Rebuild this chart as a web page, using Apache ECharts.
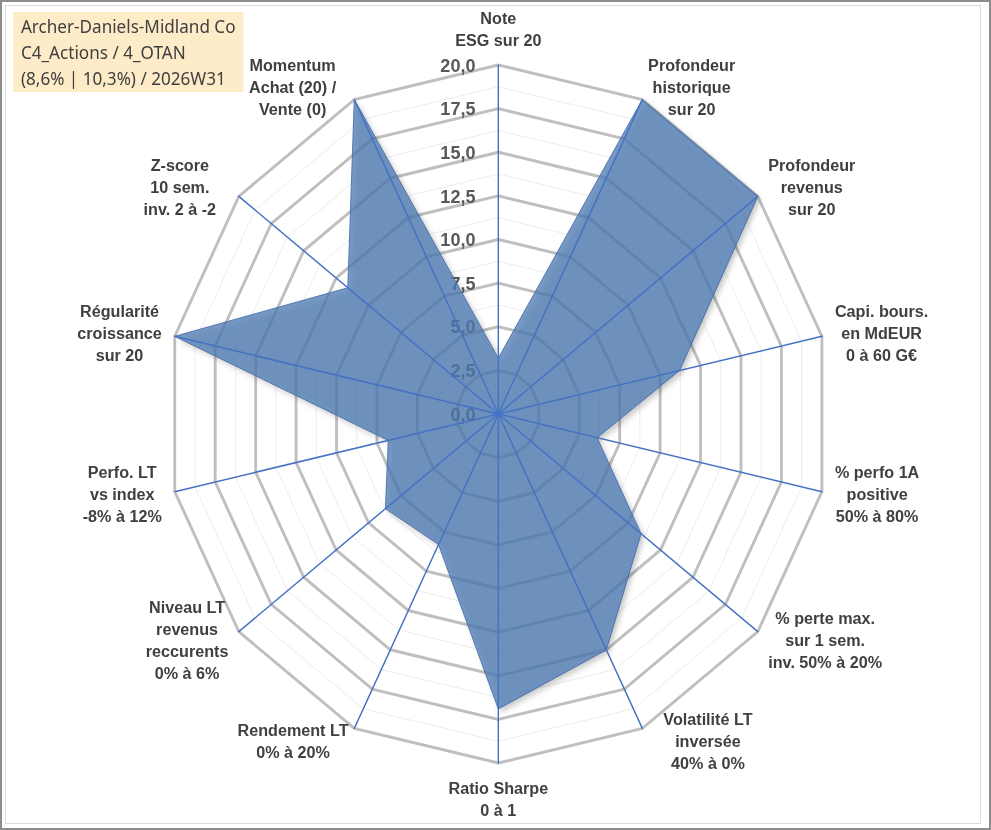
<!DOCTYPE html>
<html>
<head>
<meta charset="utf-8">
<script src="https://cdn.jsdelivr.net/npm/echarts@6/dist/echarts.min.js"></script>
<style>
  html, body { margin: 0; padding: 0; background: #fff; overflow: hidden; }
  /* the reference plot is a little narrower than it is tall */
  #main { position: absolute; left: 0; top: 0; width: 1042px; height: 830px;
          transform: scaleX(0.951); transform-origin: 0 0; }
  #outer { position: absolute; left: 0; top: 0; width: 991px; height: 830px; box-sizing: border-box;
           border: 2px solid #8c8c8c; pointer-events: none; }
  #inner { position: absolute; left: 5px; top: 5px; width: 976px; height: 819px; box-sizing: border-box;
           border: 1px solid #dadada; pointer-events: none; }
</style>
</head>
<body>
<div id="main"></div>
<div id="outer"></div>
<div id="inner"></div>
<script>
// axes, clockwise from the top
var axisNames = [
    'Note\nESG sur 20',
    'Profondeur\nhistorique\nsur 20',
    'Profondeur\nrevenus\nsur 20',
    'Capi. bours.\nen MdEUR\n0 à 60 G€',
    '% perfo 1A\npositive\n50% à 80%',
    '% perte max.\nsur 1 sem.\ninv. 50% à 20%',
    'Volatilité LT\ninversée\n40% à 0%',
    'Ratio Sharpe\n0 à 1',
    'Rendement LT\n0% à 20%',
    'Niveau LT\nrevenus\nreccurents\n0% à 6%',
    'Perfo. LT\nvs index\n-8% à 12%',
    'Régularité\ncroissance\nsur 20',
    'Z-score\n10 sem.\ninv. 2 à -2',
    'Momentum\nAchat (20) /\nVente (0)'
];
var scores = [3.2, 20, 20, 11.2, 6.1, 11.0, 15.0, 16.9, 8.3, 8.7, 6.8, 20, 11.6, 20];
var scaleMax = 20;
var titleLines = ['Archer-Daniels-Midland Co', 'C4_Actions / 4_OTAN', '(8,6% | 10,3%) / 2026W31'];

// echarts lays indicators out counter-clockwise, so reverse all but the first
var order = [0];
for (var i = axisNames.length - 1; i > 0; i--) order.push(i);

var myChart = echarts.init(document.getElementById('main'), null, { renderer: 'svg' });

function indicators(withLabel) {
    return order.map(function (k, j) {
        var ind = { name: axisNames[k], min: 0, max: scaleMax };
        if (withLabel && j === 0) ind.axisLabel = { show: true };
        return ind;
    });
}

var center = [524, 414];
var radius = 349;

var nameFont = {
    align: 'center',
    fontFamily: 'Liberation Sans, Arial',
    fontSize: 17,
    fontWeight: 'bold',
    lineHeight: 22,
    color: '#404040'
};

var option = {
    animation: false,
    title: {
        text: titleLines.join('\n'),
        left: 14,
        top: 12,
        backgroundColor: '#feebc8',
        padding: [1, 8, 1, 8],
        textStyle: {
            fontFamily: 'Noto Sans',
            fontSize: 18,
            fontWeight: 'normal',
            lineHeight: 26,
            color: '#404040'
        }
    },
    radar: [
        {
            // minor rings
            center: center,
            radius: radius,
            shape: 'polygon',
            splitNumber: 16,
            indicator: indicators(false),
            axisName: { show: false },
            axisLine: { show: false },
            axisTick: { show: false },
            axisLabel: { show: false },
            splitArea: { show: false },
            splitLine: { lineStyle: { color: '#ebebeb', width: 1 } }
        },
        {
            // major rings, names, tick labels
            center: center,
            radius: radius,
            shape: 'polygon',
            splitNumber: 8,
            nameGap: 14,
            indicator: indicators(true),
            axisName: {
                formatter: function (v) {
                    // a few labels sit further out in the original
                    var key = 'n';
                    if (v.indexOf('Volatilit') === 0) key = 'r';
                    else if (v.indexOf('Z-score') === 0 || v.indexOf('Momentum') === 0) key = 'l';
                    return '{' + key + '|' + v + '}';
                },
                rich: {
                    n: nameFont,
                    r: echarts.util.extend({ padding: [0, 0, 0, 16] }, nameFont),
                    l: echarts.util.extend({ padding: [0, 13, 0, 0] }, nameFont)
                }
            },
            axisLine: { show: false },
            axisTick: { show: false },
            axisLabel: {
                show: false,
                margin: 24,
                fontFamily: 'Liberation Sans, Arial',
                fontSize: 19,
                fontWeight: 'bold',
                color: '#595959',
                formatter: function (v) { return v.toFixed(1).replace('.', ','); }
            },
            splitArea: { show: false },
            splitLine: { lineStyle: { color: '#bfbfbf', width: 3 } }
        },
        {
            // blue spokes, drawn over the filled area
            center: center,
            radius: radius,
            shape: 'polygon',
            z: 3,
            indicator: indicators(false),
            axisName: { show: false },
            axisLine: { lineStyle: { color: '#4472c4', width: 1.5 } },
            axisTick: { show: false },
            axisLabel: { show: false },
            splitArea: { show: false },
            splitLine: { show: false }
        }
    ],
    series: [
        {
            type: 'radar',
            radarIndex: 1,
            symbol: 'none',
            lineStyle: { color: '#4f74b4', width: 1 },
            areaStyle: {
                color: '#4e7ab2',
                opacity: 0.75,
                shadowColor: 'rgba(0,0,0,0.3)',
                shadowBlur: 6,
                shadowOffsetX: 3,
                shadowOffsetY: 3
            },
            data: [{ value: order.map(function (k) { return scores[k]; }), name: 'Score' }]
        }
    ]
};

myChart.setOption(option);
</script>
</body>
</html>
